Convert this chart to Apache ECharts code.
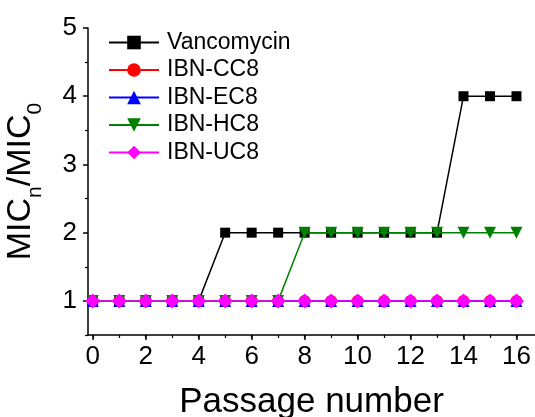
<!DOCTYPE html>
<html><head><meta charset="utf-8">
<script src="https://cdn.jsdelivr.net/npm/echarts@6/dist/echarts.min.js"></script>
<style>html,body{margin:0;padding:0;background:#fff}#c{width:535px;height:417px}</style>
</head><body><div id="c"></div>
<script>
const passages = [0,1,2,3,4,5,6,7,8,9,10,11,12,13,14,15,16];
const vancomycin = [1,1,1,1,1,2,2,2,2,2,2,2,2,2,4,4,4];
const ibnCC8 = [1,1,1,1,1,1,1,1,1,1,1,1,1,1,1,1,1];
const ibnEC8 = [1,1,1,1,1,1,1,1,1,1,1,1,1,1,1,1,1];
const ibnHC8 = [1,1,1,1,1,1,1,1,2,2,2,2,2,2,2,2,2];
const ibnUC8 = [1,1,1,1,1,1,1,1,1,1,1,1,1,1,1,1,1];
const seriesNames = ['Vancomycin','IBN-CC8','IBN-EC8','IBN-HC8','IBN-UC8'];
const xLabelValues = [0,2,4,6,8,10,12,14,16];
const yLabelValues = [1,2,3,4,5];
const yMinorValues = [0.5,1.5,2.5,3.5,4.5];

const F = 'Liberation Sans, Arial, sans-serif';
const pts = arr => passages.map((p,i)=>[p, arr[i]]);
const cfg = [
  {data: vancomycin, color:'#000000', symbol:'rect', size:10, rot:0},
  {data: ibnCC8, color:'#ff0000', symbol:'circle', size:12, rot:0},
  {data: ibnEC8, color:'#0000ff', symbol:'triangle', size:12, rot:0},
  {data: ibnHC8, color:'#008000', symbol:'triangle', size:12, rot:180},
  {data: ibnUC8, color:'#ff00ff', symbol:'diamond', size:15, rot:0}
];
const chart = echarts.init(document.getElementById('c'), null, {renderer:'canvas'});
const grid = {left:88, right:0, top:28, bottom:82, containLabel:false, outerBoundsMode:'none'};
const xBase = {type:'value', min:-0.18, max:16.7, gridIndex:0, splitLine:{show:false}};
const yBase = {type:'value', min:0.5, max:5, gridIndex:0, splitLine:{show:false}};
chart.setOption({
  animation:false,
  backgroundColor:'#fff',
  grid: grid,
  legend: {
    orient:'vertical', left:103, top:26, itemWidth:50, itemHeight:17, itemGap:4.5,
    data: seriesNames,
    textStyle:{fontFamily:F, fontSize:23, color:'#000', padding:[0,0,0,3]}
  },
  xAxis: [
    Object.assign({}, xBase, {
      position:'bottom',
      axisLine:{show:true, onZero:false, lineStyle:{color:'#000', width:1.5}},
      axisTick:{show:true, customValues:xLabelValues, length:5, lineStyle:{color:'#000', width:1.5}},
      axisLabel:{show:true, customValues:xLabelValues, margin:9, fontFamily:F, fontSize:26, color:'#000'},
      name:'Passage number', nameLocation:'middle', nameGap:50,
      nameTextStyle:{fontFamily:F, fontSize:35, color:'#000'}
    }),
    Object.assign({}, xBase, {
      position:'bottom',
      axisLine:{show:false, onZero:false},
      axisTick:{show:true, customValues:passages, length:3, lineStyle:{color:'#000', width:1.2}},
      axisLabel:{show:false}
    })
  ],
  yAxis: [
    Object.assign({}, yBase, {
      position:'left',
      axisLine:{show:true, onZero:false, lineStyle:{color:'#000', width:1.5}},
      axisTick:{show:true, customValues:yLabelValues, length:5, lineStyle:{color:'#000', width:1.5}},
      axisLabel:{show:true, customValues:yLabelValues, margin:11, fontFamily:F, fontSize:26, color:'#000'},
      name:'{a|MIC}{s|n}{a|/MIC}{s|0}', nameLocation:'middle', nameGap:50,
      nameTextStyle:{fontFamily:F, fontSize:34, color:'#000',
        rich:{
          a:{fontFamily:F, fontSize:34, color:'#000', verticalAlign:'bottom', lineHeight:42},
          s:{fontFamily:F, fontSize:21, color:'#000', verticalAlign:'bottom', lineHeight:42, padding:[0,0,-8,0]}
        }}
    }),
    Object.assign({}, yBase, {
      position:'left',
      axisLine:{show:false, onZero:false},
      axisTick:{show:true, customValues:yMinorValues, length:3, lineStyle:{color:'#000', width:1.2}},
      axisLabel:{show:false}
    })
  ],
  series: cfg.map((c,i)=>({
    name: seriesNames[i], type:'line', xAxisIndex:0, yAxisIndex:0,
    data: pts(c.data), symbol:c.symbol, symbolSize:c.size, symbolRotate:c.rot,
    showAllSymbol:true,
    lineStyle:{color:c.color, width:1.5}, itemStyle:{color:c.color, borderWidth:0},
    emphasis:{disabled:true}, z:2+i
  }))
});
</script></body></html>
